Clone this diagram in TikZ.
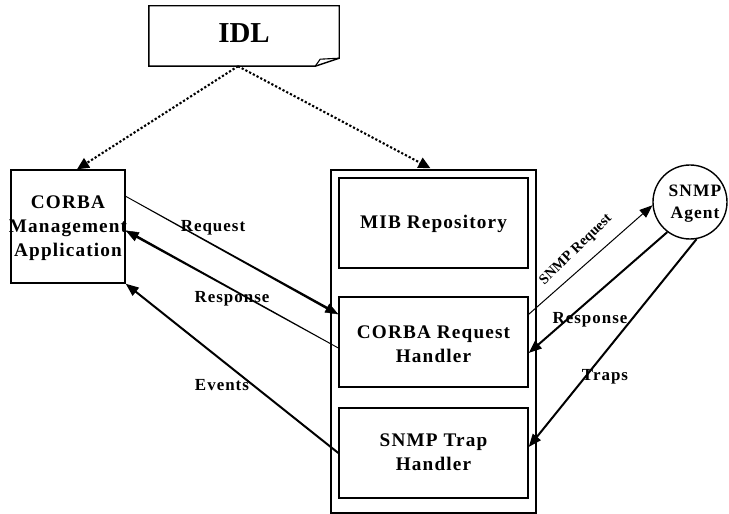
\documentclass[tikz,border=0pt]{standalone}
\usepackage{fontspec}
\setmainfont{Liberation Serif}
\newfontfamily\spacedfont[LetterSpace=6]{Liberation Serif}
\usetikzlibrary{arrows.meta,calc}

% tapered connector body: from, to, half width at start, half width at end
\newcommand\taperbody[4]{%
  \fill ($(#1)!#3!90:(#2)$) -- ($(#2)!#4!-90:(#1)$) -- ($(#2)!#4!90:(#1)$) -- ($(#1)!#3!-90:(#2)$) -- cycle;}

\begin{document}
\begin{tikzpicture}[x=1bp,y=-1bp,
  frame/.style={draw, line width=1.4bp, inner sep=0pt},
  boxtext/.style={inner sep=0pt, align=center, font=\spacedfont\bfseries\fontsize{19.3}{24}\selectfont},
  lbl/.style={inner sep=0pt, font=\spacedfont\bfseries\fontsize{17}{20}\selectfont},
  tip/.style={-{Triangle[length=13bp,width=10bp]}},
  thickarrow/.style={line width=2bp, tip},
  thinarrow/.style={line width=1bp, tip},
  dotarrow/.style={line width=2.1bp, dash pattern=on 2.2bp off 2bp, -{Triangle[length=12bp,width=11bp]}}]
\useasboundingbox (0,0) rectangle (729,514);

% IDL document shape with folded corner
\node[inner sep=0pt, minimum width=190bp, minimum height=60bp] (idl) at (244,36) {};
\draw[line width=1.4bp] (idl.north west) -- (idl.north east) -- ([yshift=8bp]idl.south east)
  -- ([xshift=-24bp]idl.south east) -- (idl.south west) -- cycle;
\draw[line width=1.1bp] ([xshift=-24bp]idl.south east) -- ([xshift=-19bp,yshift=7bp]idl.south east)
  -- ([yshift=8bp]idl.south east);
\node[inner sep=0pt, font=\bfseries\fontsize{29}{30}\selectfont] (idltext) at (244,33) {IDL};

% management application
\node[frame, minimum width=114bp, minimum height=113bp] (cma) at (68,226.5) {};
\node[boxtext] (cmatext) at (68,228) {CORBA\\Management\\Application};

% gateway with its three components
\node[frame, minimum width=205bp, minimum height=343bp] (server) at (433.5,341.5) {};
\node[frame, minimum width=189bp, minimum height=90bp] (mib) at (433.5,223) {};
\node[frame, minimum width=189bp, minimum height=90bp] (crh) at (433.5,342) {};
\node[frame, minimum width=189bp, minimum height=90bp] (sth) at (433.5,453) {};
\node[boxtext] (mibtext) at (433.5,224) {MIB Repository};
\node[boxtext] (crhtext) at (433.5,344) {CORBA Request\\Handler};
\node[boxtext] (sthtext) at (433.5,452) {SNMP Trap\\Handler};

% SNMP agent
\node[frame, circle, minimum size=74bp] (agent) at (690,202) {};
\node[inner sep=0pt, align=center, font=\spacedfont\bfseries\fontsize{17.5}{22}\selectfont] (agenttext) at (695,204) {SNMP\\Agent};

% IDL dependencies
\draw[dotarrow] ([xshift=-6bp]idl.south) -- ([xshift=9bp]cma.north);
\draw[dotarrow] ([xshift=-6bp]idl.south) -- ([xshift=-3bp,yshift=1bp]server.north);

% request / response between application and handler (tapered)
\coordinate (reqA) at ([yshift=-27bp]cma.north east);
\coordinate (reqB) at ([yshift=-18bp]crh.north west);
\coordinate (reqD) at ($(reqB)!10bp!(reqA)$);
\coordinate (reqC) at ($(reqB)!14bp!(reqA)$);
\taperbody{reqA}{reqD}{0.45bp}{1.3bp}
\draw[line width=0.4bp, tip] (reqC) -- (reqB);

\coordinate (resA) at ([yshift=-6bp]crh.west);
\coordinate (resB) at ([yshift=-4bp]cma.east);
\coordinate (resD) at ($(resB)!10bp!(resA)$);
\coordinate (resC) at ($(resB)!14bp!(resA)$);
\taperbody{resA}{resD}{0.45bp}{1.3bp}
\draw[line width=0.4bp, tip] (resC) -- (resB);

\draw[thickarrow] (sth.west) -- (cma.south east);

% traffic with the agent
\draw[thinarrow] ([yshift=-18bp]crh.north east) -- (agent.185);
\draw[thickarrow] (agent.233) -- ([yshift=-11bp]crh.east);
\draw[thickarrow] (agent.280) -- ([yshift=6bp]sth.east);

% connector labels
\node[lbl] (lreq) at (213,228) {Request};
\node[lbl] (lres) at (232,299) {Response};
\node[lbl] (lev) at (222,385) {Events};
\node[lbl] (lres2) at (590,320) {Response};
\node[lbl] (ltraps) at (605,377) {Traps};
\node[inner sep=0pt, rotate=44, font=\bfseries\fontsize{14.5}{16}\selectfont] (lsnmpreq) at (576,250) {SNMP Request};
\end{tikzpicture}
\end{document}
